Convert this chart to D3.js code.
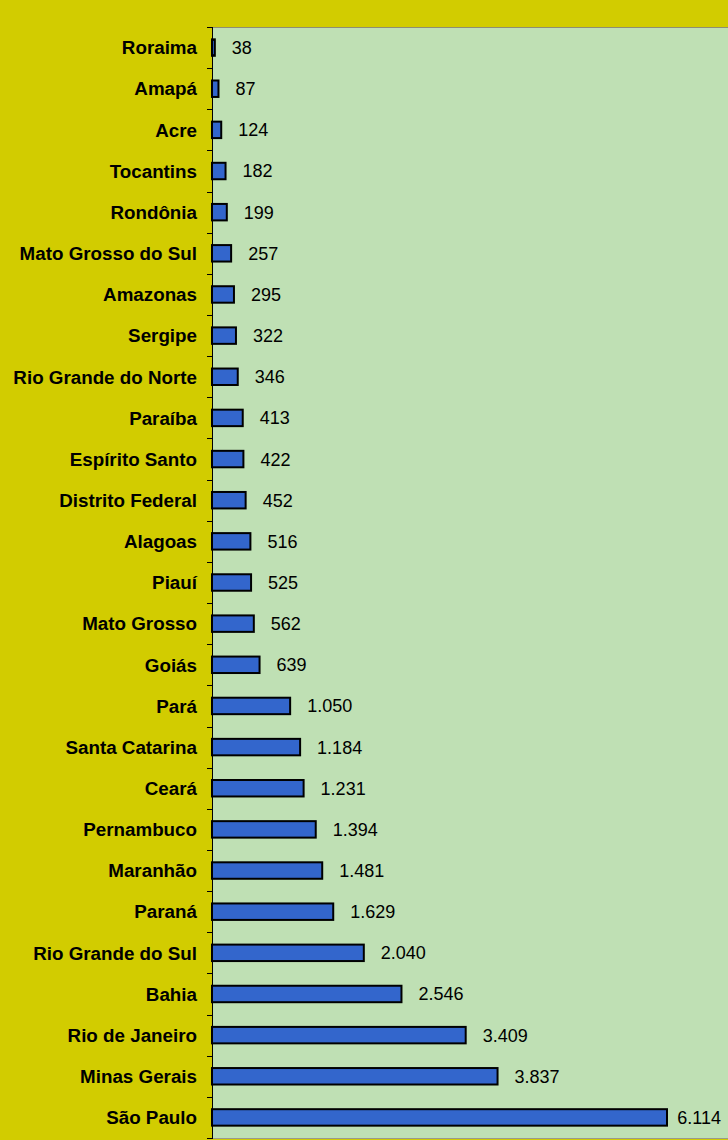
<!DOCTYPE html>
<html>
<head>
<meta charset="utf-8">
<script src="https://cdnjs.cloudflare.com/ajax/libs/d3/7.8.5/d3.min.js"></script>
<style>
  html, body { margin: 0; padding: 0; background: #D2CC00; }
  svg { display: block; }
</style>
</head>
<body>
<div id="chart"></div>
<script>
// States ordered from smallest to largest
const states = [
  "Roraima", "Amapá", "Acre", "Tocantins", "Rondônia", "Mato Grosso do Sul",
  "Amazonas", "Sergipe", "Rio Grande do Norte", "Paraíba", "Espírito Santo",
  "Distrito Federal", "Alagoas", "Piauí", "Mato Grosso", "Goiás", "Pará",
  "Santa Catarina", "Ceará", "Pernambuco", "Maranhão", "Paraná",
  "Rio Grande do Sul", "Bahia", "Rio de Janeiro", "Minas Gerais", "São Paulo"
];
const values = [
  38, 87, 124, 182, 199, 257, 295, 322, 346, 413, 422, 452, 516, 525, 562,
  639, 1050, 1184, 1231, 1394, 1481, 1629, 2040, 2546, 3409, 3837, 6114
];
const valueLabels = [
  "38", "87", "124", "182", "199", "257", "295", "322", "346", "413", "422",
  "452", "516", "525", "562", "639", "1.050", "1.184", "1.231", "1.394",
  "1.481", "1.629", "2.040", "2.546", "3.409", "3.837", "6.114"
];

const W = 728, H = 1140;
const plotLeft = 212, plotTop = 27, plotBottom = 1138;

const data = states.map((s, i) => ({ state: s, value: values[i], label: valueLabels[i] }));

const svg = d3.select("#chart").append("svg")
  .attr("width", W).attr("height", H);

// outer chart area
svg.append("rect").attr("width", W).attr("height", H).attr("fill", "#D2CC00");

// plot area
svg.append("rect")
  .attr("x", plotLeft).attr("y", plotTop)
  .attr("width", W - plotLeft + 10).attr("height", plotBottom - plotTop)
  .attr("fill", "#BFE0B4");
svg.append("line")
  .attr("x1", plotLeft).attr("x2", W).attr("y1", plotTop + 0.5).attr("y2", plotTop + 0.5)
  .attr("stroke", "#8E8E72").attr("stroke-width", 1);
svg.append("line")
  .attr("x1", plotLeft).attr("x2", W).attr("y1", plotBottom + 0.5).attr("y2", plotBottom + 0.5)
  .attr("stroke", "#9A9A8A").attr("stroke-width", 1);

const y = d3.scaleBand()
  .domain(states)
  .range([plotTop, plotBottom])
  .paddingInner(0.6).paddingOuter(0.3);

const x = d3.scaleLinear()
  .domain([0, 7000])
  .range([plotLeft, plotLeft + 7000 * (455 / 6114)]);

// bars
svg.append("g").selectAll("rect")
  .data(data)
  .join("rect")
  .attr("x", x(0))
  .attr("y", d => y(d.state))
  .attr("width", d => x(d.value) - x(0))
  .attr("height", y.bandwidth())
  .attr("fill", "#3366CC")
  .attr("stroke", "#000")
  .attr("stroke-width", 2);

// category axis: line with ticks at band boundaries
const boundaries = d3.range(states.length + 1).map(i => plotTop + i * (plotBottom - plotTop) / states.length);
const axisG = svg.append("g");
axisG.append("line")
  .attr("x1", plotLeft + 0.5).attr("x2", plotLeft + 0.5)
  .attr("y1", plotTop).attr("y2", plotBottom + 1)
  .attr("stroke", "#000").attr("stroke-width", 1);
axisG.selectAll("line.tick")
  .data(boundaries)
  .join("line")
  .attr("class", "tick")
  .attr("x1", plotLeft - 5).attr("x2", plotLeft + 1)
  .attr("y1", d => Math.round(d) + 0.5).attr("y2", d => Math.round(d) + 0.5)
  .attr("stroke", "#000").attr("stroke-width", 1);

// category labels
svg.append("g").selectAll("text")
  .data(data)
  .join("text")
  .attr("x", 197)
  .attr("y", d => y(d.state) + y.bandwidth() / 2)
  .attr("dy", "0.36em")
  .attr("text-anchor", "end")
  .attr("font-family", "Liberation Sans, Arial, sans-serif")
  .attr("font-weight", "bold")
  .attr("font-size", "18.8px")
  .attr("fill", "#000")
  .text(d => d.state);

// value labels
svg.append("g").selectAll("text")
  .data(data)
  .join("text")
  .attr("x", d => x(d.value) + 17)
  .attr("y", d => y(d.state) + y.bandwidth() / 2)
  .attr("dy", "0.36em")
  .attr("font-family", "Liberation Sans, Arial, sans-serif")
  .attr("font-size", "18px")
  .attr("fill", "#000")
  .text(d => d.label)
  .each(function () {
    // keep labels inside the chart's right edge
    const t = d3.select(this);
    const w = this.getComputedTextLength();
    const x0 = +t.attr("x");
    if (x0 + w > W - 7) t.attr("x", W - 7 - w);
  });
</script>
</body>
</html>
